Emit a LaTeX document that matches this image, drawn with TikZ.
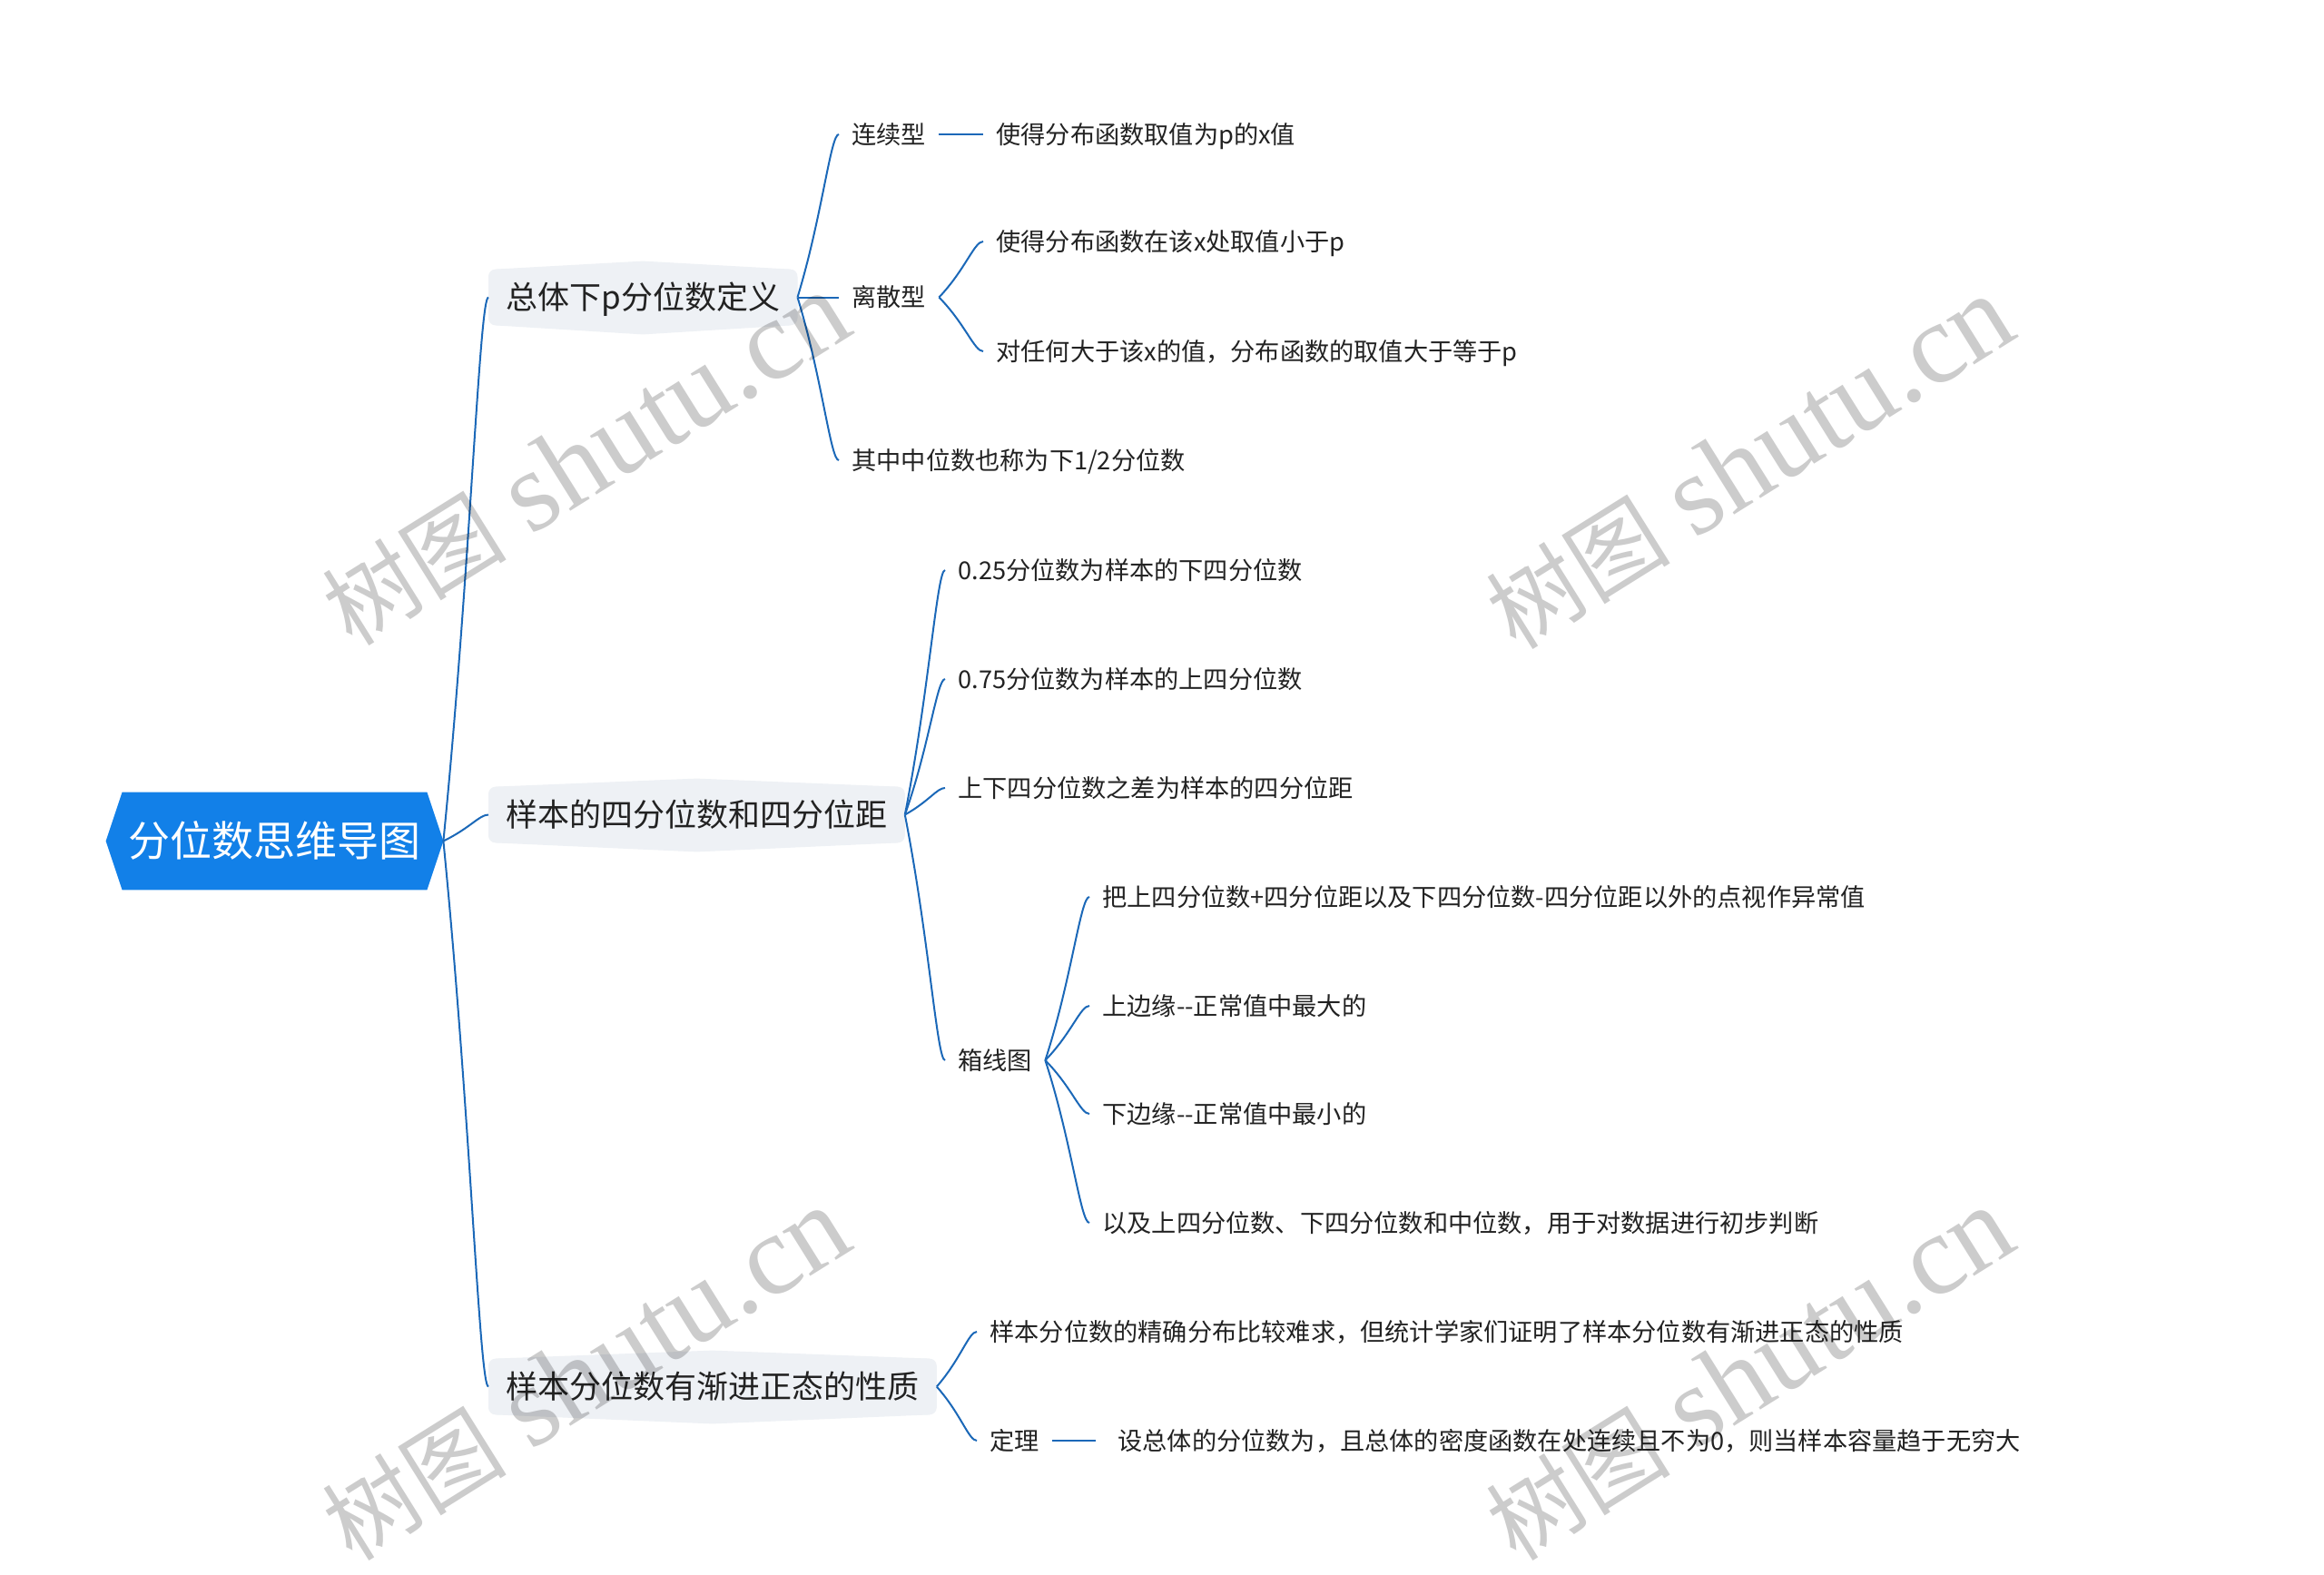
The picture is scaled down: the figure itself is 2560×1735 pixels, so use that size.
\documentclass[tikz,border=0pt]{standalone}
\usepackage{fontspec}
\setmainfont{Noto Sans CJK SC}
\newfontfamily\wmlatin{Liberation Serif}
\usetikzlibrary{calc}
\pgfdeclarelayer{bg}
\pgfdeclarelayer{fg}
\pgfsetlayers{bg,main,fg}
\definecolor{rootc}{HTML}{1280E8}
\definecolor{linec}{HTML}{1B68B8}
\definecolor{boxc}{HTML}{EEF1F5}
\definecolor{txtc}{HTML}{222222}
\newcommand\mmlink[2]{\draw[conn] let \p1=(#1), \p2=(#2) in (\p1) .. controls ({\x1+0.6*(\x2-\x1)},{\y1+0.5*(\y2-\y1)}) and ({\x1+0.8*(\x2-\x1)},{\y2}) .. (\p2);}
\newcommand\topicbg[1]{%
  \begin{pgfonlayer}{bg}
  \fill[boxc, rounded corners=4pt] (#1.north west) rectangle (#1.south east);
  \fill[boxc] ([xshift=4pt]#1.north west) -- ([yshift=4.5pt]#1.north) -- ([xshift=-4pt]#1.north east) -- ([xshift=-4pt]#1.south east) -- ([yshift=-5pt]#1.south) -- ([xshift=4pt]#1.south west) -- cycle;
  \end{pgfonlayer}}
\newcommand\wmtext{{\fontsize{51pt}{54pt}\selectfont 树图}\hspace{14pt}{\wmlatin\fontsize{63pt}{66pt}\selectfont shutu.cn}}
\begin{document}
\begin{tikzpicture}[x=0.5pt,y=-0.5pt,
  conn/.style={draw=linec, line width=1pt},
  leaf/.style={anchor=west, text=txtc, inner xsep=7pt, inner ysep=2pt, font=\fontsize{13.6pt}{16pt}\selectfont, text height=11.3pt, text depth=1pt},
  topic/.style={anchor=west, text=txtc, inner xsep=9.5pt, inner ysep=0pt, minimum height=30.5pt, font=\fontsize{17.5pt}{20pt}\selectfont, text height=14.5pt, text depth=1.2pt},
  wm/.style={text=black, text opacity=0.2, rotate=32}
]
\useasboundingbox (0,0) rectangle (2560,1735);
\begin{pgfonlayer}{bg}
\fill[white] (0,0) rectangle (2560,1735);
\end{pgfonlayer}

% root
\node[anchor=center, minimum width=185.5pt, minimum height=53.5pt, inner sep=0pt, text=white, font=\fontsize{23pt}{26pt}\selectfont, text height=19pt, text depth=1.6pt] (root) at (302.5,926.5) {分位数思维导图};
\begin{pgfonlayer}{bg}
\fill[rootc] (root.west) -- ([xshift=9pt]root.north west) -- ([xshift=-9pt]root.north east) -- (root.east) -- ([xshift=-9pt]root.south east) -- ([xshift=9pt]root.south west) -- cycle;
\end{pgfonlayer}

% level 1
\node[topic, minimum width=167.5pt] (b1) at (538,327.5) {总体下p分位数定义};
\node[topic, minimum width=226pt] (b2) at (538,897.5) {样本的四分位数和四分位距};
\node[topic, minimum width=243.5pt] (b3) at (538,1527.5) {样本分位数有渐进正态的性质};
\topicbg{b1}\topicbg{b2}\topicbg{b3}

% branch 1
\node[leaf] (n11) at (924,148) {连续型};
\node[leaf] (n111) at (1083,148) {使得分布函数取值为p的x值};
\node[leaf] (n12) at (924,327.5) {离散型};
\node[leaf] (n121) at (1083,266) {使得分布函数在该x处取值小于p};
\node[leaf] (n122) at (1083,387) {对任何大于该x的值，分布函数的取值大于等于p};
\node[leaf] (n13) at (924,507) {其中中位数也称为下1/2分位数};

% branch 2
\node[leaf] (n21) at (1041,628) {0.25分位数为样本的下四分位数};
\node[leaf] (n22) at (1041,748) {0.75分位数为样本的上四分位数};
\node[leaf] (n23) at (1041,868) {上下四分位数之差为样本的四分位距};
\node[leaf] (n24) at (1041,1168) {箱线图};
\node[leaf] (n241) at (1200,988) {把上四分位数+四分位距以及下四分位数-四分位距以外的点视作异常值};
\node[leaf] (n242) at (1200,1108) {上边缘-{}-正常值中最大的};
\node[leaf] (n243) at (1200,1227) {下边缘-{}-正常值中最小的};
\node[leaf] (n244) at (1200,1347) {以及上四分位数、下四分位数和中位数，用于对数据进行初步判断};

% branch 3
\node[leaf] (n31) at (1076,1467) {样本分位数的精确分布比较难求，但统计学家们证明了样本分位数有渐进正态的性质};
\node[leaf] (n32) at (1076,1587) {定理};
\node[leaf] (n321) at (1207,1587) {\hspace*{5pt}设总体的分位数为，且总体的密度函数在处连续且不为0，则当样本容量趋于无穷大};

% connectors
\mmlink{root.east}{b1.west}
\mmlink{root.east}{b2.west}
\mmlink{root.east}{b3.west}
\mmlink{b1.east}{n11.west}
\mmlink{b1.east}{n12.west}
\mmlink{b1.east}{n13.west}
\draw[conn] (n11.east) -- (n111.west);
\mmlink{n12.east}{n121.west}
\mmlink{n12.east}{n122.west}
\mmlink{b2.east}{n21.west}
\mmlink{b2.east}{n22.west}
\mmlink{b2.east}{n23.west}
\mmlink{b2.east}{n24.west}
\mmlink{n24.east}{n241.west}
\mmlink{n24.east}{n242.west}
\mmlink{n24.east}{n243.west}
\mmlink{n24.east}{n244.west}
\mmlink{b3.east}{n31.west}
\mmlink{b3.east}{n32.west}
\draw[conn] (n32.east) -- (n321.west);

% watermarks
\begin{pgfonlayer}{fg}
\node[wm] (wm1) at (645,506) {\wmtext};
\node[wm] (wm2) at (1927,510) {\wmtext};
\node[wm] (wm3) at (645,1514) {\wmtext};
\node[wm] (wm4) at (1927,1514) {\wmtext};
\end{pgfonlayer}
\end{tikzpicture}
\end{document}
